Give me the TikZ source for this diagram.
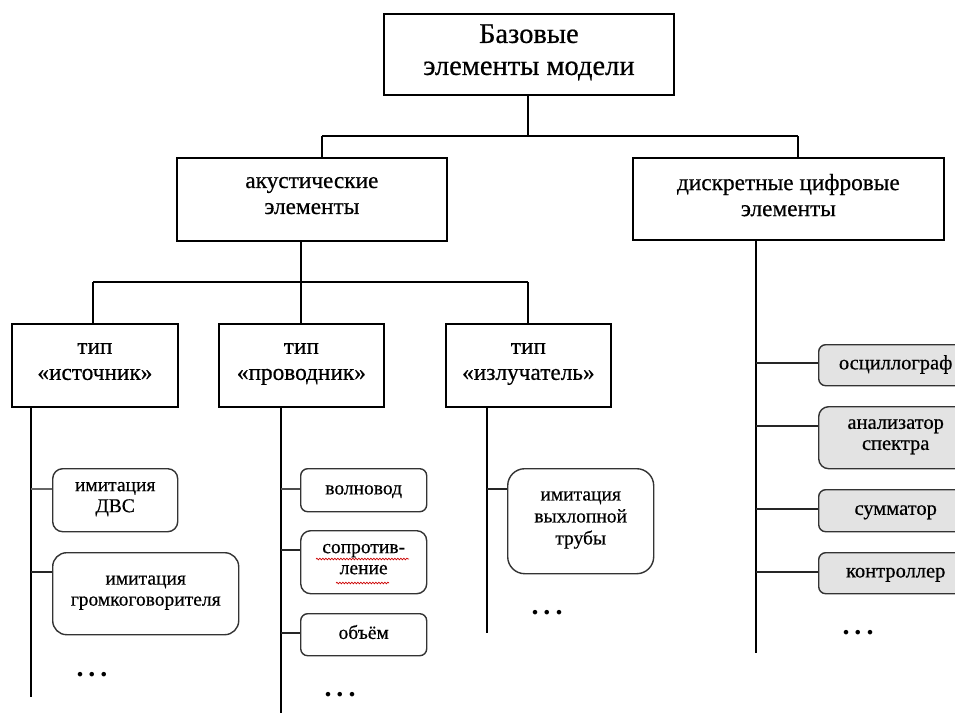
\documentclass[tikz,border=0pt]{standalone}
\usepackage{fontspec}
\setmainfont{Liberation Serif}
\newfontfamily\heavy{Liberation Serif}[FakeBold=0.5]
\usetikzlibrary{decorations.pathmorphing}
\begin{document}
\begin{tikzpicture}[x=1pt,y=-1pt,
  line/.style={line width=1.6pt, black},
  sub/.style={line width=1.4pt, black!85},
  mainbox/.style={draw, line width=1.8pt, inner sep=0pt, align=center, anchor=north west,
    execute at begin node=\strut, execute at end node=\strut},
  leafbox/.style={draw=black!80, line width=1.4pt, inner sep=0pt, align=center, anchor=north west,
    font=\heavy\fontsize{19.5}{21}\selectfont, execute at begin node=\strut, execute at end node=\strut},
  greybox/.style={leafbox, fill=black!11, font=\heavy\fontsize{20.5}{21}\selectfont},
  midfont/.style={font=\heavy\fontsize{23.3}{26}\selectfont},
  dots/.style={font=\fontsize{28}{28}\selectfont\bfseries, inner sep=0pt}
]
\clip (0,0) rectangle (955,713);
\fill[white] (0,0) rectangle (955,713);

% main boxes
\node[mainbox, minimum width=290pt, minimum height=81pt, font=\heavy\fontsize{28.5}{32}\selectfont] (top) at (383,13) {Базовые\\элементы модели};
\node[mainbox, minimum width=270pt, minimum height=83pt, midfont] (ac) at (176,157) {акустические\\элементы};
\node[mainbox, minimum width=311pt, minimum height=82pt, midfont] (di) at (632,157) {дискретные цифровые\\элементы};

\node[mainbox, minimum width=166pt, minimum height=83pt, midfont] (t1) at (11,323) {тип\\«источник»};
\node[mainbox, minimum width=165pt, minimum height=83pt, midfont] (t2) at (218,323) {тип\\«проводник»};
\node[mainbox, minimum width=165pt, minimum height=83pt, midfont] (t3) at (445,323) {тип\\«излучатель»};

% junctions
\coordinate (j0) at (528,136);
\coordinate (jA) at (322,136);
\coordinate (jD) at (798,136);
\coordinate (k0) at (301,282);
\coordinate (kA) at (93,282);
\coordinate (kC) at (528,282);

\draw[line] (j0 |- top.south) -- (j0);
\draw[line] (jA) -- (jD);
\draw[line] (jA) -- (jA |- ac.north);
\draw[line] (jD) -- (jD |- di.north);
\draw[line] (k0 |- ac.south) -- (k0);
\draw[line] (kA) -- (kC);
\draw[line] (kA) -- (kA |- t1.north);
\draw[line] (k0) -- (k0 |- t2.north);
\draw[line] (kC) -- (kC |- t3.north);

% spines
\coordinate (s1) at (31,697);
\coordinate (s2) at (281,713);
\coordinate (s3) at (487,633);
\coordinate (s4) at (756,653);
\draw[line] (s1 |- t1.south) -- (s1);
\draw[line] (s2 |- t2.south) -- (s2);
\draw[line] (s3 |- t3.south) -- (s3);
\draw[line] (s4 |- di.south) -- (s4);

% leaves
\node[leafbox, minimum width=125pt, minimum height=63pt, rounded corners=10pt] (l1) at (52,468) {имитация\\ДВС};
\node[leafbox, minimum width=186pt, minimum height=82pt, rounded corners=14pt] (l2) at (52,552) {имитация\\громкоговорителя};
\node[leafbox, minimum width=126pt, minimum height=43pt, rounded corners=7pt] (l3) at (300,468) {волновод};
\node[leafbox, minimum width=126pt, minimum height=63pt, rounded corners=10pt] (l4) at (300,530) {сопротив-\\ление};
\node[leafbox, minimum width=126pt, minimum height=42pt, rounded corners=7pt] (l5) at (300,613) {объём};
\node[leafbox, minimum width=146pt, minimum height=105pt, rounded corners=17pt, font=\heavy\fontsize{19.5}{22}\selectfont] (l6) at (507,468) {имитация\\выхлопной\\трубы};

\node[greybox, minimum width=154pt, minimum height=41pt, rounded corners=7pt] (g1) at (818,344) {осциллограф};
\node[greybox, minimum width=154pt, minimum height=62pt, rounded corners=10pt] (g2) at (818,406) {анализатор\\спектра};
\node[greybox, minimum width=154pt, minimum height=42pt, rounded corners=7pt] (g3) at (818,489) {сумматор};
\node[greybox, minimum width=154pt, minimum height=41pt, rounded corners=7pt] (g4) at (818,552) {контроллер};

% leaf connectors
\coordinate (c1) at (31,489);
\coordinate (c2) at (31,572);
\coordinate (c3) at (281,489);
\coordinate (c4) at (281,550);
\coordinate (c5) at (281,633);
\coordinate (c6) at (487,489);
\coordinate (d1) at (756,363);
\coordinate (d2) at (756,426);
\coordinate (d3) at (756,509);
\coordinate (d4) at (756,572);
\draw[sub, black!60] (c1) -- (c1 -| l1.west);
\draw[sub] (c2) -- (c2 -| l2.west);
\draw[sub, black!70] (c3) -- (c3 -| l3.west);
\draw[sub] (c4) -- (c4 -| l4.west);
\draw[sub] (c5) -- (c5 -| l5.west);
\draw[sub] (c6) -- (c6 -| l6.west);
\draw[sub] (d1) -- (d1 -| g1.west);
\draw[sub] (d2) -- (d2 -| g2.west);
\draw[sub] (d3) -- (d3 -| g3.west);
\draw[sub] (d4) -- (d4 -| g4.west);

% spell-check squiggles
\draw[red!80!black, line width=0.7pt, decorate, decoration={snake, amplitude=0.8pt, segment length=3pt}] (316,559) -- (409,559);
\draw[red!80!black, line width=0.7pt, decorate, decoration={snake, amplitude=0.8pt, segment length=3pt}] (336,583) -- (389,583);

% ellipses
\node[dots] (e1) at (92,675) {.\hspace{5pt}.\hspace{5pt}.};
\node[dots] (e2) at (340,695) {.\hspace{5pt}.\hspace{5pt}.};
\node[dots] (e3) at (547,613) {.\hspace{5pt}.\hspace{5pt}.};
\node[dots] (e4) at (858,633) {.\hspace{5pt}.\hspace{5pt}.};
\end{tikzpicture}
\end{document}
